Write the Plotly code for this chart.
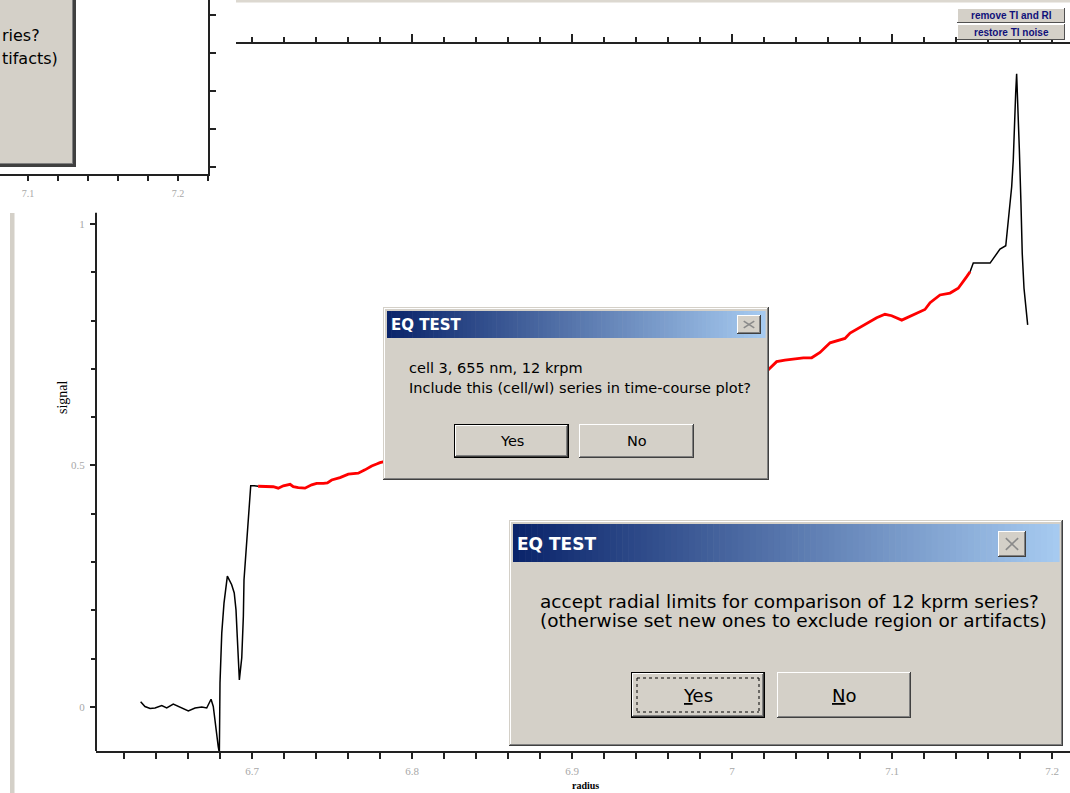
import plotly.graph_objects as go

W, H = 1070, 793

# ---- radial scan data (radius in cm, normalised signal) ----
# leading baseline / meniscus region
r_lead = [6.6304, 6.6331, 6.6363, 6.6394, 6.6436, 6.6467, 6.6508, 6.6561, 6.6602, 6.6644,
          6.6686, 6.6717, 6.6744, 6.6758, 6.6775, 6.6789, 6.6796, 6.6800, 6.6811, 6.6825,
          6.6846, 6.6873, 6.6889, 6.6900, 6.6908, 6.6921, 6.6936, 6.6946, 6.6950, 6.6963,
          6.6973, 6.6983, 6.6992, 6.7014, 6.7038]
s_lead = [0.011, 0.001, -0.003, -0.002, 0.003, -0.002, 0.006, -0.001, -0.008, -0.002,
          0.000, -0.002, 0.016, 0.001, -0.051, -0.082, -0.095, 0.050, 0.153, 0.215,
          0.271, 0.253, 0.236, 0.201, 0.145, 0.056, 0.102, 0.188, 0.263, 0.325,
          0.381, 0.429, 0.458, 0.458, 0.457]

# accepted radial window (highlighted)
r_fit = [6.7038, 6.7081, 6.7133, 6.7164, 6.7196, 6.7238, 6.7258, 6.7289, 6.7331, 6.7373,
         6.7404, 6.7446, 6.7471, 6.7498, 6.7550, 6.7602, 6.7664, 6.7706, 6.7748, 6.7779,
         6.7800,
         7.0227, 7.0279, 7.0331, 7.0394, 7.0446, 7.0498, 7.0550, 7.0613, 7.0675, 7.0706,
         7.0738, 7.0789, 7.0842, 7.0904, 7.0956, 7.0998, 7.1061, 7.1102, 7.1154, 7.1206,
         7.1238, 7.1300, 7.1363, 7.1414, 7.1467, 7.1488]
s_fit = [0.457, 0.457, 0.456, 0.453, 0.458, 0.461, 0.456, 0.454, 0.453, 0.460,
         0.463, 0.463, 0.464, 0.470, 0.475, 0.482, 0.484, 0.491, 0.499, 0.503,
         0.506,
         0.698, 0.715, 0.718, 0.720, 0.723, 0.723, 0.734, 0.754, 0.761, 0.763,
         0.774, 0.784, 0.794, 0.806, 0.813, 0.810, 0.801, 0.807, 0.816, 0.823,
         0.837, 0.853, 0.857, 0.867, 0.891, 0.901]

# trailing region up to the cell bottom
r_tail = [7.1488, 7.1508, 7.1613, 7.1633, 7.1675, 7.1711, 7.1727, 7.1738, 7.1748, 7.1758,
          7.1764, 7.1773, 7.1779, 7.1786, 7.1796, 7.1806, 7.1814, 7.1825, 7.1836, 7.1848]
s_tail = [0.901, 0.919, 0.919, 0.929, 0.948, 0.955, 1.002, 1.043, 1.077, 1.133,
          1.202, 1.271, 1.311, 1.257, 1.153, 1.043, 0.939, 0.867, 0.832, 0.791]

# axis ticks
x_major = [6.7, 6.8, 6.9, 7.0, 7.1, 7.2]
x_major_text = ["6.7", "6.8", "6.9", "7", "7.1", "7.2"]
y_major = [0, 0.5, 1]
y_major_text = ["0", "0.5", "1"]
y_minor = [0.1, 0.2, 0.3, 0.4, 0.6, 0.7, 0.8, 0.9]

top_major = [6.8, 6.9, 7.0, 7.1, 7.2]
inset_major = [7.1, 7.2]
inset_major_text = ["7.1", "7.2"]
inset_y_ticks = [0, 0.2, 0.4, 0.6, 0.8]

FACE = "#d4d0c8"
AXC = "#222222"
TICKFONT = dict(family="Liberation Serif", size=11, color="#a8a8a8")
UIFONT = "DejaVu Sans"

fig = go.Figure()
fig.add_trace(go.Scatter(x=r_lead, y=s_lead, mode="lines",
                         line=dict(color="#000000", width=1.5), showlegend=False))
fig.add_trace(go.Scatter(x=r_fit, y=s_fit, mode="lines",
                         line=dict(color="#ff0000", width=2.8), showlegend=False))
fig.add_trace(go.Scatter(x=r_tail, y=s_tail, mode="lines",
                         line=dict(color="#000000", width=1.5), showlegend=False))
# empty traces so the strip axis and the inset axes get drawn
fig.add_trace(go.Scatter(x=[], y=[], xaxis="x2", yaxis="y2", showlegend=False))
fig.add_trace(go.Scatter(x=[], y=[], xaxis="x3", yaxis="y3", showlegend=False))


def px(x):
    return x / W


def py(y):
    return 1 - y / H


shapes = []
annos = []


def box(x0, y0, x1, y1, fill):
    shapes.append(dict(type="rect", xref="paper", yref="paper",
                       x0=px(x0), x1=px(x1), y0=py(y1), y1=py(y0),
                       fillcolor=fill, line=dict(width=0), layer="above"))


def seg(x0, y0, x1, y1, color, width=1, dash="solid"):
    shapes.append(dict(type="line", xref="paper", yref="paper",
                       x0=px(x0), x1=px(x1), y0=py(y0), y1=py(y1),
                       line=dict(color=color, width=width, dash=dash), layer="above"))


def bevel(x0, y0, x1, y1, tl, br, w=1):
    box(x0, y0, x1, y0 + w, tl)
    box(x0, y0, x0 + w, y1, tl)
    box(x0, y1 - w, x1, y1, br)
    box(x1 - w, y0, x1, y1, br)


def text(x, y, s, size, color="#000000", xanchor="left", bold=False, family=UIFONT,
         angle=0):
    if bold:
        s = "<b>" + s + "</b>"
    annos.append(dict(x=px(x), y=py(y), xref="paper", yref="paper", text=s,
                      showarrow=False, xanchor=xanchor, yanchor="middle", textangle=angle,
                      font=dict(family=family, size=size, color=color), borderpad=0))


def button(x0, y0, x1, y1, label, size, default=False, focus=False):
    if default:
        box(x0, y0, x1, y1, "#000000")
        x0 += 1; y0 += 1; x1 -= 1; y1 -= 1
    box(x0, y0, x1, y1, FACE)
    bevel(x0, y0, x1, y1, "#ffffff", "#404040")
    bevel(x0 + 1, y0 + 1, x1 - 1, y1 - 1, FACE, "#808080")
    if focus:
        fx0, fy0, fx1, fy1 = x0 + 5, y0 + 5, x1 - 5, y1 - 5
        for a, b, c, d in [(fx0, fy0, fx1, fy0), (fx0, fy1, fx1, fy1),
                           (fx0, fy0, fx0, fy1), (fx1, fy0, fx1, fy1)]:
            seg(a, b, c, d, "#000000", 1, "dot")
    text((x0 + x1) / 2, (y0 + y1) / 2, label, size, xanchor="center")


def close_btn(x0, y0, x1, y1):
    box(x0, y0, x1, y1, FACE)
    bevel(x0, y0, x1, y1, "#ffffff", "#404040")
    bevel(x0 + 1, y0 + 1, x1 - 1, y1 - 1, FACE, "#808080")
    m = (x1 - x0) * 0.28
    seg(x0 + m, y0 + m * 0.9, x1 - m, y1 - m * 0.9, "#8a8a8a", 1.6)
    seg(x0 + m, y1 - m * 0.9, x1 - m, y0 + m * 0.9, "#8a8a8a", 1.6)


def lerp(c0, c1, t):
    return "#%02x%02x%02x" % tuple(int(round(a + (b - a) * t)) for a, b in zip(c0, c1))


def dialog(x0, y0, x1, y1, title_y1, title, title_size, close_box):
    box(x0, y0, x1, y1, FACE)
    bevel(x0, y0, x1, y1, FACE, "#404040")
    bevel(x0 + 1, y0 + 1, x1 - 1, y1 - 1, "#ffffff", "#808080")
    tx0, tx1, ty0 = x0 + 4, x1 - 4, y0 + 4
    n = 90
    for i in range(n):
        t = i / (n - 1)
        box(tx0 + (tx1 - tx0) * i / n, ty0, tx0 + (tx1 - tx0) * (i + 1) / n + 0.6, title_y1,
            lerp((10, 36, 106), (166, 202, 240), t))
    text(tx0 + 3, (ty0 + title_y1) / 2 + 0.5, title, title_size, "#ffffff", bold=True)
    close_btn(*close_box)


# --- window pieces behind the plot ---
box(236, 0, W, 2.5, "#dcd8d0")
box(10, 213, 14.5, H, FACE)

# partially visible dialog at top-left
box(0, -5, 76, 167, FACE)
box(0, 163, 76, 167, "#404040")
box(72, -5, 76, 167, "#404040")
box(0, 163, 73, 164, "#808080")
box(72, -5, 73, 164, "#808080")
text(0.5, 36, "ries?", 16)
text(0.5, 59, "tifacts)", 16)

# strip buttons on the top panel
for (by0, by1, lab) in [(8, 23, "remove TI and RI"), (24, 40, "restore TI noise")]:
    box(957, by0, 1065, by1, FACE)
    bevel(957, by0, 1065, by1, "#ffffff", "#505050")
    text(1011, (by0 + by1) / 2, lab, 10, "#10107a", xanchor="center", bold=True,
         family="Liberation Sans")

# y axis line of the main plot (ticks come from the axis itself)
shapes.append(dict(type="line", xref="x domain", yref="y", x0=0, x1=0, y0=-0.0911, y1=1.023,
                   line=dict(color=AXC, width=2), layer="above"))

# axis titles
text(62, 397, "signal", 14, family="Liberation Serif", xanchor="center", angle=-90)
text(585, 785, "radius", 10, family="Liberation Serif", xanchor="center", bold=True)

# --- dialog 1 ---
dialog(383, 307, 769, 480, 338, "EQ TEST", 15, (737, 315, 761, 334))
text(408, 368, "cell 3, 655 nm, 12 krpm", 14.5)
text(408, 388, "Include this (cell/wl) series in time-course plot?", 14.5)
button(454, 424, 569, 458, "Yes", 14.5, default=True)
button(579, 424, 694, 458, "No", 14.5)

# --- dialog 2 ---
dialog(509, 520, 1063, 746, 562, "EQ TEST", 17, (998, 531, 1026, 557))
text(539, 601, "accept radial limits for comparison of 12 kprm series?", 18.5)
text(539, 620, "(otherwise set new ones to exclude region or artifacts)", 18.5)
button(631, 672, 765, 718, "<u>Y</u>es", 18, default=True, focus=True)
button(777, 672, 911, 718, "<u>N</u>o", 18)

fig.update_layout(
    width=W, height=H,
    margin=dict(l=0, r=0, t=0, b=0),
    paper_bgcolor="#ffffff", plot_bgcolor="rgba(0,0,0,0)",
    showlegend=False,
    xaxis=dict(domain=[96 / W, 1], range=[6.6025, 7.21125], anchor="y",
               showgrid=False, zeroline=False, showline=True, linecolor=AXC, linewidth=2,
               tickmode="array", tickvals=x_major, ticktext=x_major_text,
               ticks="outside", ticklen=6, tickwidth=1.5, tickcolor=AXC,
               tickfont=TICKFONT, ticklabelstandoff=3,
               minor=dict(dtick=0.02, tick0=6.7, ticks="outside", ticklen=6,
                          tickwidth=1.5, tickcolor=AXC, showgrid=False)),
    yaxis=dict(domain=[1 - 751 / H, 1 - 50 / H], range=[-0.0911, 1.3602], anchor="x",
               showgrid=False, zeroline=False, showline=False,
               tickmode="array", tickvals=y_major, ticktext=y_major_text,
               ticks="outside", ticklen=5, tickwidth=1.5, tickcolor=AXC,
               tickfont=TICKFONT, ticklabelstandoff=3,
               minor=dict(tickmode="array", tickvals=y_minor, ticks="outside", ticklen=4,
                          tickwidth=1.5, tickcolor=AXC, showgrid=False)),
    xaxis2=dict(domain=[236 / W, 1], range=[6.69, 7.21125], anchor="y2",
                showgrid=False, zeroline=False, showline=True, linecolor=AXC, linewidth=2,
                tickmode="array", tickvals=top_major, showticklabels=False,
                ticks="inside", ticklen=8, tickwidth=1.5, tickcolor=AXC,
                minor=dict(dtick=0.02, tick0=6.7, ticks="inside", ticklen=5,
                           tickwidth=1.5, tickcolor=AXC, showgrid=False)),
    yaxis2=dict(domain=[1 - 42 / H, 1 - 10 / H], range=[0, 1], anchor="x2", visible=False),
    xaxis3=dict(domain=[0, 208 / W], range=[7.0813, 7.22], anchor="y3",
                showgrid=False, zeroline=False, showline=True, linecolor=AXC, linewidth=2,
                tickmode="array", tickvals=inset_major, ticktext=inset_major_text,
                ticks="outside", ticklen=5, tickwidth=1.5, tickcolor=AXC,
                tickfont=dict(family="Liberation Serif", size=10, color="#a8a8a8"),
                ticklabelstandoff=4,
                minor=dict(dtick=0.02, tick0=7.1, ticks="outside", ticklen=5,
                           tickwidth=1.5, tickcolor=AXC, showgrid=False)),
    yaxis3=dict(domain=[1 - 174 / H, 1], range=[-0.037, 0.879], anchor="x3", side="right",
                showgrid=False, zeroline=False, showline=True, linecolor=AXC, linewidth=2,
                tickmode="array", tickvals=inset_y_ticks, showticklabels=False,
                ticks="outside", ticklen=6, tickwidth=1.5, tickcolor=AXC),
    shapes=shapes,
    annotations=annos,
)

fig.write_html("out.html")
